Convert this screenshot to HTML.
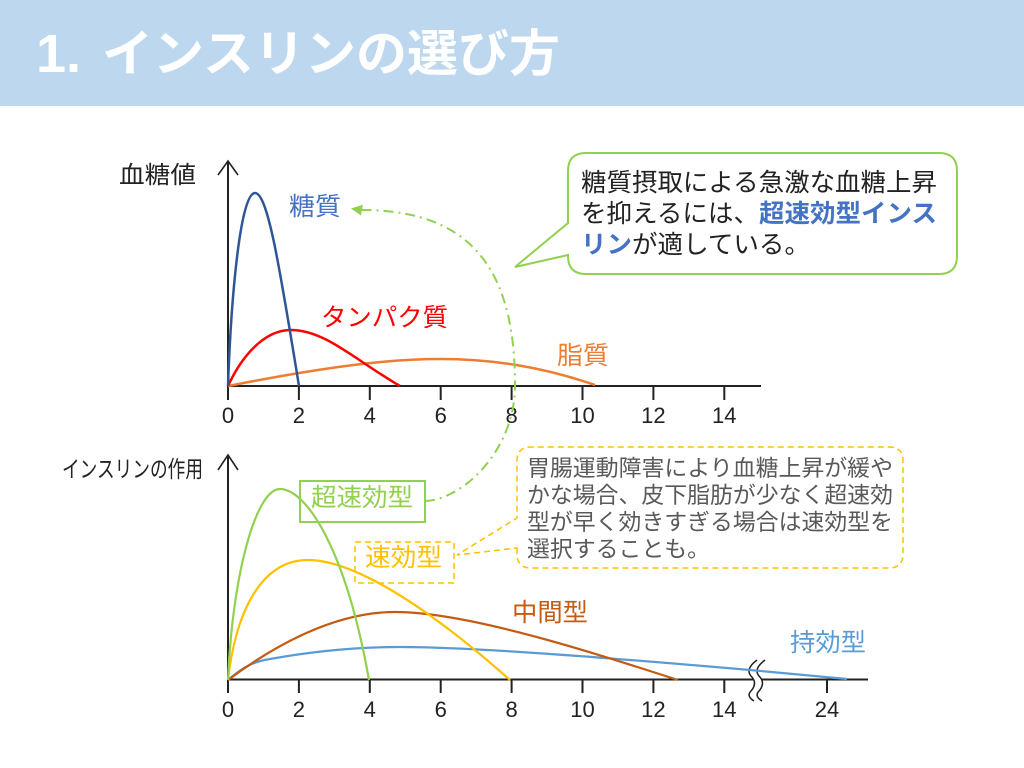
<!DOCTYPE html>
<html><head><meta charset="utf-8"><style>
html,body{margin:0;padding:0;background:#fff;}
svg{display:block;}
text{font-family:"Liberation Sans","Noto Sans CJK JP",sans-serif;}
</style></head><body>
<svg width="1024" height="768" viewBox="0 0 1024 768" xmlns="http://www.w3.org/2000/svg">
<rect width="1024" height="768" fill="#fff"/>
<rect width="1024" height="106" fill="#BDD7EE"/>
<text x="36" y="72" font-size="54" font-weight="bold" fill="#fff">1.</text>
<text x="102" y="71" font-size="50" font-weight="bold" fill="#fff" textLength="458" lengthAdjust="spacingAndGlyphs">インスリンの選び方</text>

<!-- Top chart -->
<text x="119" y="183" font-size="24" fill="#222" textLength="77" lengthAdjust="spacingAndGlyphs">血糖値</text>
<path d="M228,161 V386 H761" stroke="#222" stroke-width="2" fill="none"/>
<path d="M218,175 L228,161 L238,175" stroke="#222" stroke-width="1.6" fill="none"/>
<g stroke="#222" stroke-width="2">
<line x1="228" y1="386" x2="228" y2="400"/>
<line x1="298.9" y1="386" x2="298.9" y2="400"/>
<line x1="369.8" y1="386" x2="369.8" y2="400"/>
<line x1="440.7" y1="386" x2="440.7" y2="400"/>
<line x1="511.6" y1="386" x2="511.6" y2="400"/>
<line x1="582.5" y1="386" x2="582.5" y2="400"/>
<line x1="653.4" y1="386" x2="653.4" y2="400"/>
<line x1="724.3" y1="386" x2="724.3" y2="400"/>
</g>
<g font-size="22" fill="#222" text-anchor="middle">
<text x="228" y="423">0</text>
<text x="298.9" y="423">2</text>
<text x="369.8" y="423">4</text>
<text x="440.7" y="423">6</text>
<text x="511.6" y="423">8</text>
<text x="582.5" y="423">10</text>
<text x="653.4" y="423">12</text>
<text x="724.3" y="423">14</text>
</g>
<path d="M228,386 C330,366 390,359 440,359 C490,359 540,366 595,385" stroke="#ED7D31" stroke-width="2.5" fill="none"/>
<path d="M228,386 C240,360 262,330 291,330 C325,330 355,360 400,386" stroke="#FF0000" stroke-width="2.5" fill="none"/>
<path d="M228,386 C231,300 240,193 255,193 C268,193 280,270 299,386" stroke="#2F5597" stroke-width="2.5" fill="none"/>
<text x="289" y="215" font-size="25" fill="#4472C4" textLength="52" lengthAdjust="spacingAndGlyphs">糖質</text>
<text x="321" y="326" font-size="25" fill="#FF0000" textLength="127" lengthAdjust="spacingAndGlyphs">タンパク質</text>
<text x="557" y="364" font-size="25" fill="#ED7D31" textLength="52" lengthAdjust="spacingAndGlyphs">脂質</text>

<!-- green dash-dot arc -->
<path d="M425,501 C460,500 512,455 515,390 C516,280 480,210 362,210" stroke="#92D050" stroke-width="2" fill="none" stroke-dasharray="10 5 2 5"/>
<polygon points="351,208.5 362.8,204.7 361,215.5" fill="#92D050"/>

<!-- Green callout -->
<path d="M568,255 V256 Q568,274 586,274 H939 Q957,274 957,256 V171 Q957,153 939,153 H586 Q568,153 568,171 V223 L515,267 Z" stroke="#92D050" stroke-width="2" fill="#fff"/>
<g font-size="25" fill="#222">
<text x="581" y="191" textLength="356" lengthAdjust="spacingAndGlyphs">糖質摂取による急激な血糖上昇</text>
<text x="581" y="222" textLength="178" lengthAdjust="spacingAndGlyphs">を抑えるには、</text>
<text x="759" y="222" font-weight="bold" fill="#4472C4" textLength="178" lengthAdjust="spacingAndGlyphs">超速効型インス</text>
<text x="581" y="253" font-weight="bold" fill="#4472C4" textLength="51" lengthAdjust="spacingAndGlyphs">リン</text>
<text x="632" y="253" textLength="178" lengthAdjust="spacingAndGlyphs">が適している。</text>
</g>

<!-- Bottom chart -->
<text x="62" y="477" font-size="23" fill="#222" textLength="141" lengthAdjust="spacingAndGlyphs">インスリンの作用</text>
<path d="M228,455 V679.5 H868" stroke="#222" stroke-width="2" fill="none"/>
<path d="M218,470 L228,455 L238,470" stroke="#222" stroke-width="1.6" fill="none"/>
<g stroke="#222" stroke-width="2">
<line x1="228" y1="679.5" x2="228" y2="693"/>
<line x1="298.9" y1="679.5" x2="298.9" y2="693"/>
<line x1="369.8" y1="679.5" x2="369.8" y2="693"/>
<line x1="440.7" y1="679.5" x2="440.7" y2="693"/>
<line x1="511.6" y1="679.5" x2="511.6" y2="693"/>
<line x1="582.5" y1="679.5" x2="582.5" y2="693"/>
<line x1="653.4" y1="679.5" x2="653.4" y2="693"/>
<line x1="724.3" y1="679.5" x2="724.3" y2="693"/>
<line x1="827" y1="679.5" x2="827" y2="693"/>
</g>
<g font-size="22" fill="#222" text-anchor="middle">
<text x="228" y="717">0</text>
<text x="298.9" y="717">2</text>
<text x="369.8" y="717">4</text>
<text x="440.7" y="717">6</text>
<text x="511.6" y="717">8</text>
<text x="582.5" y="717">10</text>
<text x="653.4" y="717">12</text>
<text x="724.3" y="717">14</text>
<text x="827" y="717">24</text>
</g>
<!-- break mark -->
<path d="M757,660 Q745,669 751,676 Q758,683 751,691 Q746,696 754,701 L762,701 Q754,696 759,691 Q766,683 759,676 Q753,669 765,660 Z" fill="#fff" stroke="none"/>
<path d="M757,660 Q745,669 751,676 Q758,683 751,691 Q746,696 754,701" stroke="#222" stroke-width="1.5" fill="none"/>
<path d="M765,660 Q753,669 759,676 Q766,683 759,691 Q754,696 762,701" stroke="#222" stroke-width="1.5" fill="none"/>

<path d="M228,680 C240,670 250,662 270,659 C320,650 360,647 400,647 C470,647 600,657 750,670 L847,679" stroke="#5B9BD5" stroke-width="2.2" fill="none"/>
<path d="M228,680 C275,645 335,612 395,612 C470,612 600,655 678,680" stroke="#C55A11" stroke-width="2.2" fill="none"/>
<path d="M228,680 C236,610 262,560 308,560 C350,560 420,600 510,680" stroke="#FFC000" stroke-width="2.2" fill="none"/>
<path d="M228,680 C232,580 255,489 280,489 C305,489 345,545 369,680" stroke="#92D050" stroke-width="2.2" fill="none"/>

<rect x="300" y="481" width="125" height="41" stroke="#92D050" stroke-width="2" fill="none"/>
<text x="311" y="506" font-size="25" fill="#92D050" textLength="102" lengthAdjust="spacingAndGlyphs">超速効型</text>
<rect x="355" y="542" width="99" height="41" stroke="#FFC000" stroke-width="1.5" fill="none" stroke-dasharray="6 4"/>
<text x="365" y="566" font-size="25" fill="#FFC000" textLength="77" lengthAdjust="spacingAndGlyphs">速効型</text>

<!-- dashed callout -->
<path d="M517,548 V554 Q517,568 531,568 H889 Q903,568 903,554 V461 Q903,447 889,447 H531 Q517,447 517,461 V518 L457,555 Z" stroke="#FFC000" stroke-width="1.5" fill="#fff" stroke-dasharray="6 4"/>
<g font-size="22.5" fill="#595959">
<text x="527" y="476" textLength="366" lengthAdjust="spacingAndGlyphs">胃腸運動障害により血糖上昇が緩や</text>
<text x="527" y="503" textLength="366" lengthAdjust="spacingAndGlyphs">かな場合、皮下脂肪が少なく超速効</text>
<text x="527" y="530" textLength="366" lengthAdjust="spacingAndGlyphs">型が早く効きすぎる場合は速効型を</text>
<text x="527" y="557" textLength="183" lengthAdjust="spacingAndGlyphs">選択することも。</text>
</g>

<text x="512" y="621" font-size="25" fill="#C55A11" textLength="76" lengthAdjust="spacingAndGlyphs">中間型</text>
<text x="790" y="651" font-size="25" fill="#5B9BD5" textLength="76" lengthAdjust="spacingAndGlyphs">持効型</text>
</svg>
</body></html>
